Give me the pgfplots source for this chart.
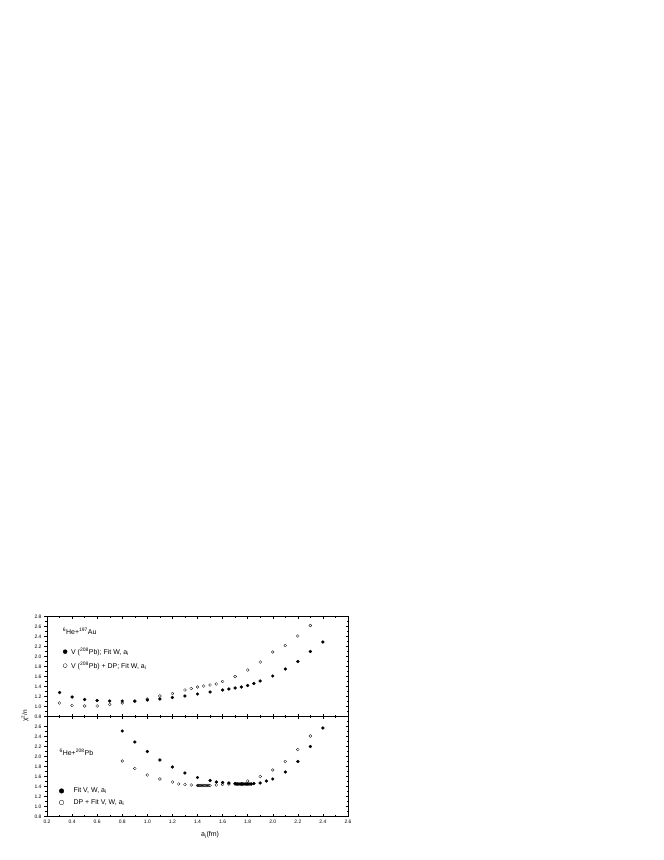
\documentclass[border=0pt]{standalone}
\usepackage{fontspec}
\setmainfont{Liberation Sans}
\usepackage{pgfplots}
\pgfplotsset{compat=1.18}

\pgfplotsset{
  frame/.style={
    scale only axis, width=301bp, height=100bp,
    xmin=0.2, xmax=2.6, ymin=0.8, ymax=2.8,
    axis line style={line width=0.5bp},
    tick style={line width=0.35bp, black},
    major tick length=2.5bp, minor tick length=1.5bp,
    ticklabel style={font=\fontsize{5}{6}\selectfont},
    /pgf/number format/assume math mode=true,
    /pgf/number format/fixed,
    /pgf/number format/fixed zerofill,
    /pgf/number format/precision=1,
  },
  ticksA/.style={xtick=\empty, ytick pos=left, tick align=outside,
    minor y tick num=1, yticklabel style={xshift=0.5bp}},
  ticksB/.style={xtick={0.2,0.4,0.6,0.8,1.0,1.2,1.4,1.6,1.8,2.0,2.2,2.4,2.6},
    minor x tick num=1, xtick pos=both, tick align=inside,
    ytick={0.8,1.0,1.2,1.4,1.6,1.8,2.0,2.2,2.4,2.6,2.8}, minor y tick num=1,
    ytick pos=right, yticklabel style={text opacity=0}},
  full/.style={only marks, mark=*, mark size=1.45bp, black},
  hollow/.style={only marks, mark=o, mark size=1.45bp, black, mark options={line width=0.3bp}},
}

\begin{document}
\begin{tikzpicture}
\path[use as bounding box] (0bp,0bp) rectangle (664bp,860bp);

% upper panel: 6He + 197Au
\begin{axis}[frame, ticksA, at={(47bp,143.5bp)}, anchor=south west,
  ytick={0.8,1.0,1.2,1.4,1.6,1.8,2.0,2.2,2.4,2.6,2.8},
  legend style={draw=none, fill=none, at={(0.053,0.71)}, anchor=north west,
    font=\fontsize{7}{8}\selectfont, row sep=2bp, inner sep=0pt},
  legend cell align=left,
  legend image code/.code={\draw[#1, mark size=2bp] plot coordinates {(0bp,0bp)};
    \path[draw=none, fill=none] (-2bp,0bp) rectangle (4bp,0.1bp);},
]
\addplot[full] coordinates {
 (0.3,1.28)(0.4,1.19)(0.5,1.14)(0.6,1.12)(0.7,1.11)(0.8,1.11)(0.9,1.11)
 (1.0,1.13)(1.1,1.15)(1.2,1.18)(1.3,1.21)(1.4,1.25)(1.5,1.29)(1.6,1.33)
 (1.65,1.35)(1.7,1.37)(1.75,1.39)(1.8,1.42)(1.85,1.46)(1.9,1.51)(2.0,1.61)
 (2.1,1.75)(2.2,1.90)(2.3,2.10)(2.4,2.29)
};
\addlegendentry{V (\textsuperscript{208}Pb); Fit W, a\textsubscript{i}}
\addplot[hollow] coordinates {
 (0.3,1.07)(0.4,1.02)(0.5,1.01)(0.6,1.01)(0.7,1.04)(0.8,1.07)(0.9,1.10)
 (1.0,1.15)(1.1,1.21)(1.2,1.26)(1.3,1.33)(1.35,1.36)(1.4,1.39)(1.45,1.41)
 (1.5,1.43)(1.55,1.45)(1.6,1.50)(1.7,1.60)(1.8,1.73)(1.9,1.89)(2.0,2.09)
 (2.1,2.22)(2.2,2.41)(2.3,2.62)
};
\addlegendentry{V (\textsuperscript{208}Pb) + DP; Fit W, a\textsubscript{i}}
\node[anchor=west, inner sep=0pt, font=\fontsize{7}{8}\selectfont]
  at (rel axis cs:0.052,0.85) {\textsuperscript{6}He+\textsuperscript{197}Au};
\end{axis}
\begin{axis}[frame, ticksB, at={(47bp,143.5bp)}, anchor=south west,
  xticklabel style={text opacity=0}]
\end{axis}

% lower panel: 6He + 208Pb
\begin{axis}[frame, ticksA, at={(47bp,43.5bp)}, anchor=south west,
  ytick={0.8,1.0,1.2,1.4,1.6,1.8,2.0,2.2,2.4,2.6},
  legend style={draw=none, fill=none, at={(0.04,0.31)}, anchor=north west,
    font=\fontsize{7}{8}\selectfont, row sep=1bp, inner sep=0pt},
  legend cell align=left,
  legend image code/.code={\draw[#1, mark size=2.3bp] plot coordinates {(0bp,0bp)};
    \path[draw=none, fill=none] (-2.3bp,0bp) rectangle (10bp,0.1bp);},
]
\addplot[full] coordinates {
 (0.8,2.51)(0.9,2.29)(1.0,2.10)(1.1,1.93)(1.2,1.79)(1.3,1.67)(1.4,1.58)
 (1.5,1.52)(1.55,1.49)(1.6,1.48)(1.65,1.47)(1.7,1.46)
 (1.71,1.45)(1.72,1.45)(1.73,1.45)(1.74,1.45)(1.75,1.45)(1.76,1.45)(1.77,1.45)
 (1.78,1.45)(1.79,1.45)(1.80,1.45)(1.81,1.45)(1.82,1.45)(1.83,1.45)
 (1.85,1.46)(1.9,1.47)(1.95,1.51)(2.0,1.55)(2.1,1.69)(2.2,1.90)(2.3,2.20)(2.4,2.57)
};
\addlegendentry{Fit V, W, a\textsubscript{i}}
\addplot[hollow] coordinates {
 (0.8,1.91)(0.9,1.76)(1.0,1.63)(1.1,1.55)(1.2,1.49)(1.25,1.45)(1.3,1.44)(1.35,1.43)
 (1.40,1.42)(1.41,1.42)(1.42,1.42)(1.43,1.42)(1.44,1.42)(1.45,1.42)(1.46,1.42)
 (1.47,1.42)(1.48,1.42)(1.49,1.42)(1.50,1.42)
 (1.55,1.43)(1.6,1.44)(1.65,1.45)(1.7,1.45)(1.75,1.45)(1.8,1.51)(1.9,1.60)
 (2.0,1.73)(2.1,1.90)(2.2,2.14)(2.3,2.41)
};
\addlegendentry{DP + Fit V, W, a\textsubscript{i}}
\node[anchor=west, inner sep=0pt, font=\fontsize{7}{8}\selectfont]
  at (rel axis cs:0.041,0.64) {\textsuperscript{6}He+\textsuperscript{208}Pb};
\end{axis}
\begin{axis}[frame, ticksB, at={(47bp,43.5bp)}, anchor=south west, xticklabel pos=left]
\end{axis}

\node[rotate=90, font=\fontsize{6.5}{7.5}\selectfont] at (25bp,144bp) {χ\textsuperscript{2}/n};
\node[font=\fontsize{7}{8}\selectfont] at (210bp,25bp) {a\textsubscript{i}(fm)};
\end{tikzpicture}
\end{document}
